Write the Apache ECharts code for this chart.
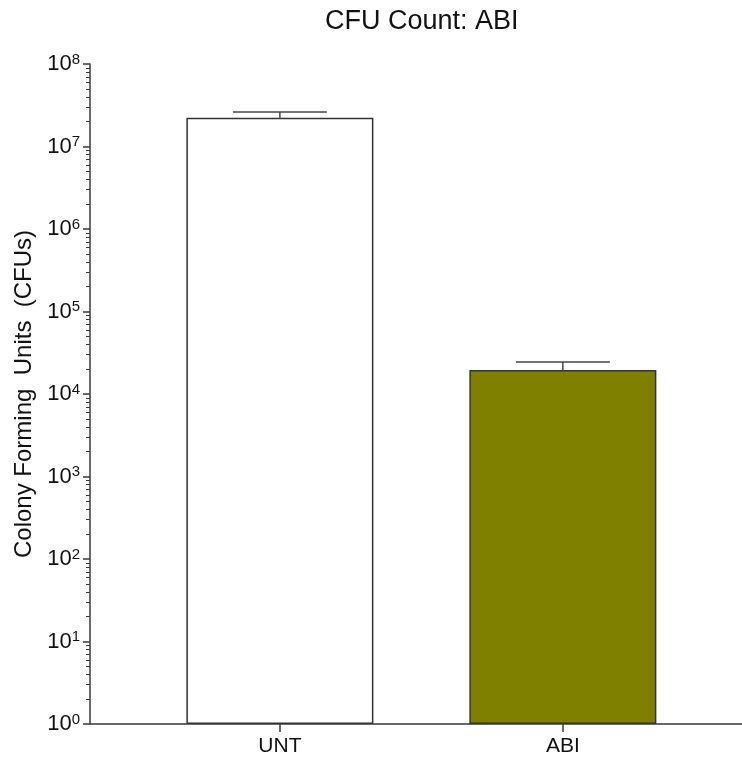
<!DOCTYPE html>
<html>
<head>
<meta charset="utf-8">
<style>
  html, body { margin: 0; padding: 0; background: #fff; }
  #chart { width: 742px; height: 759px; }
</style>
<script src="https://cdn.jsdelivr.net/npm/echarts@6/dist/echarts.min.js"></script>
</head>
<body>
<div id="chart"></div>
<script>
  // data
  const categories = ['UNT', 'ABI'];
  const meanValues = [2.23e7, 1.95e4];
  const errorTops = [2.62e7, 2.44e4];
  const barColors = ['#ffffff', '#808000'];
  const decadeTicks = [1, 10, 100, 1e3, 1e4, 1e5, 1e6, 1e7, 1e8];

  const FONT = '"Liberation Sans", Arial, sans-serif';
  const AXIS_COLOR = '#3a3a3a';

  // minor tick positions (2..9 of each decade), in log10 space
  const minorTicks = [];
  for (let n = 0; n < 8; n++) {
    for (let k = 2; k <= 9; k++) minorTicks.push(Math.log10(k * Math.pow(10, n)));
  }

  const chart = echarts.init(document.getElementById('chart'));

  const option = {
    animation: false,
    title: {
      text: 'CFU Count: ABI',
      left: 320,
      top: 3,
      textStyle: { fontFamily: FONT, fontSize: 27, fontWeight: 'normal', color: '#111' },
    },
    grid: { left: 90, right: 0, top: 64, bottom: 35 },
    xAxis: {
      type: 'value',
      min: -0.671,
      max: 1.633,
      splitLine: { show: false },
      axisLine: { onZero: false, lineStyle: { color: AXIS_COLOR, width: 1.5 } },
      axisTick: { customValues: [0, 1], length: 8, lineStyle: { color: AXIS_COLOR, width: 1.5 } },
      axisLabel: {
        customValues: [0, 1],
        formatter: (v) => categories[Math.round(v)],
        margin: 12,
        fontFamily: FONT,
        fontSize: 21,
        color: '#111',
      },
    },
    yAxis: [
      {
        type: 'log',
        logBase: 10,
        min: decadeTicks[0],
        max: decadeTicks[decadeTicks.length - 1],
        interval: 1,
        splitLine: { show: false },
        axisLine: { show: true, onZero: false, lineStyle: { color: AXIS_COLOR, width: 1.5 } },
        axisTick: { length: 7, lineStyle: { color: AXIS_COLOR, width: 1.5 } },
        axisLabel: {
          margin: 10,
          formatter: (v) => '{b|10}{s|' + Math.round(Math.log10(v)) + '}',
          rich: {
            b: { fontFamily: FONT, fontSize: 22, color: '#111', lineHeight: 24 },
            s: { fontFamily: FONT, fontSize: 15, color: '#111', verticalAlign: 'top', lineHeight: 24 },
          },
        },
        name: 'Colony Forming  Units  (CFUs)',
        nameLocation: 'middle',
        nameGap: 49,
        nameTextStyle: { fontFamily: FONT, fontSize: 24, color: '#111' },
      },
      {
        type: 'value',
        min: 0,
        max: 8,
        position: 'left',
        splitLine: { show: false },
        axisLine: { show: false, onZero: false },
        axisLabel: { show: false },
        axisTick: { show: true, customValues: minorTicks, length: 4, lineStyle: { color: AXIS_COLOR, width: 1 } },
      },
    ],
    series: [
      {
        type: 'bar',
        yAxisIndex: 0,
        barWidth: 187,
        data: categories.map((c, i) => ({
          value: [i, meanValues[i]],
          itemStyle: { color: barColors[i], borderColor: '#333', borderWidth: 1.5 },
        })),
        z: 2,
      },
      {
        type: 'custom',
        yAxisIndex: 0,
        data: categories.map((c, i) => [i, meanValues[i], errorTops[i]]),
        encode: { x: 0, y: [1, 2] },
        renderItem: (params, api) => {
          const x = api.value(0);
          const low = api.coord([x, api.value(1)]);
          const high = api.coord([x, api.value(2)]);
          const half = 47;
          const style = { stroke: '#444', lineWidth: 1.5 };
          return {
            type: 'group',
            children: [
              { type: 'line', shape: { x1: low[0], y1: low[1], x2: high[0], y2: high[1] }, style },
              { type: 'line', shape: { x1: high[0] - half, y1: high[1], x2: high[0] + half, y2: high[1] }, style },
            ],
          };
        },
        z: 3,
      },
    ],
  };

  chart.setOption(option);
  window.addEventListener('resize', () => chart.resize());
</script>
</body>
</html>
